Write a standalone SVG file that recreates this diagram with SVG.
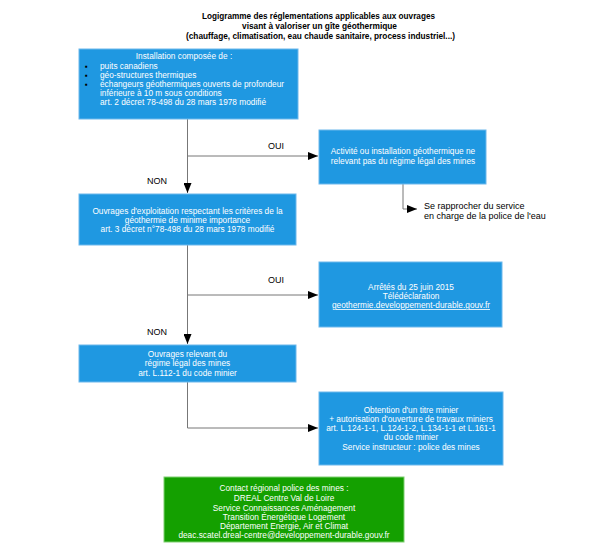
<svg xmlns="http://www.w3.org/2000/svg" width="609" height="545" viewBox="0 0 609 545">
<defs>
<marker id="ah" viewBox="0 0 10 8" refX="10" refY="4" markerWidth="10" markerHeight="8" markerUnits="userSpaceOnUse" orient="auto">
<path d="M0,0 L10,4 L0,8 z" fill="#000"/>
</marker>
</defs>
<style>
.box{fill:#1f98e1;stroke:#6cb8ec;stroke-width:1}
.gbox{fill:#14a000;stroke:#7fcf70;stroke-width:1}
.t{font-family:"Liberation Sans",Arial,sans-serif;font-size:8.3px;fill:#fff}
.c{text-anchor:middle}
.lbl{font-family:"Liberation Sans",Arial,sans-serif;font-size:9px;fill:#000}
.title{font-family:"Liberation Sans Narrow","Liberation Sans",Arial,sans-serif;font-size:9.6px;font-weight:bold;fill:#000;text-anchor:middle}
.con{fill:none;stroke:#777;stroke-width:1}
.bul{font-family:"Liberation Sans",Arial,sans-serif;font-size:8px;fill:#000}
</style>
<rect width="609" height="545" fill="#fff"/>
<g id="title">
<text class="title" x="318.5" y="18.5" textLength="233" lengthAdjust="spacingAndGlyphs">Logigramme des réglementations applicables aux ouvrages</text>
<text class="title" x="319.5" y="28.5" textLength="155" lengthAdjust="spacingAndGlyphs">visant à valoriser un gîte géothermique</text>
<text class="title" x="320.5" y="38.5" textLength="269" lengthAdjust="spacingAndGlyphs">(chauffage, climatisation, eau chaude sanitaire, process industriel...)</text>
</g>
<g id="connectors">
<path class="con" d="M187.5,119 V193" marker-end="url(#ah)"/>
<path class="con" d="M187.5,156 H318" marker-end="url(#ah)"/>
<path class="con" d="M403,184 V209 H417" marker-end="url(#ah)"/>
<path class="con" d="M187.5,245 V344" marker-end="url(#ah)"/>
<path class="con" d="M187.5,295 H318" marker-end="url(#ah)"/>
<path class="con" d="M187.5,382 V428 H318" marker-end="url(#ah)"/>
<text class="lbl" x="268" y="149">OUI</text>
<text class="lbl" x="268" y="283">OUI</text>
<text class="lbl" x="147" y="184">NON</text>
<text class="lbl" x="147" y="335">NON</text>
<text class="lbl" x="424" y="209" font-size="8">Se rapprocher du service</text>
<text class="lbl" x="424" y="219" font-size="8">en charge de la police de l'eau</text>
</g>
<g id="n1">
<rect class="box" x="79" y="49" width="219" height="70"/>
<text class="t c" x="184" y="59">Installation composée de :</text>
<text class="bul" x="85" y="68.5">▪</text>
<text class="bul" x="85" y="77.5">▪</text>
<text class="bul" x="85" y="86.5">▪</text>
<text class="t" x="100" y="68.5">puits canadiens</text>
<text class="t" x="100" y="77.5">géo-structures thermiques</text>
<text class="t" x="100" y="86.5">échangeurs géothermiques ouverts de profondeur</text>
<text class="t" x="100" y="95.5">inférieure à 10 m sous conditions</text>
<text class="t" x="100" y="104.5">art. 2 décret 78-498 du 28 mars 1978 modifié</text>
</g>
<g id="n2">
<rect class="box" x="319" y="130" width="167" height="54"/>
<text class="t c" x="403" y="154">Activité ou installation géothermique ne</text>
<text class="t c" x="403" y="164">relevant pas du régime légal des mines</text>
</g>
<g id="n3">
<rect class="box" x="79" y="194" width="217" height="51"/>
<text class="t c" x="187.5" y="213.5">Ouvrages d'exploitation respectant les critères de la</text>
<text class="t c" x="187.5" y="222.5">géothermie de minime importance</text>
<text class="t c" x="187.5" y="231.5">art. 3 décret n°78-498 du 28 mars 1978 modifié</text>
</g>
<g id="n4">
<rect class="box" x="319" y="262" width="183" height="65"/>
<text class="t c" x="411" y="290">Arrêtés du 25 juin 2015</text>
<text class="t c" x="411" y="299">Télédéclaration</text>
<text class="t c" x="411" y="308" text-decoration="underline">geothermie.developpement-durable.gouv.fr</text>
</g>
<g id="n5">
<rect class="box" x="79" y="345" width="217" height="37"/>
<text class="t c" x="187.5" y="357">Ouvrages relevant du</text>
<text class="t c" x="187.5" y="366">régime légal des mines</text>
<text class="t c" x="187.5" y="375.5">art. L.112-1 du code minier</text>
</g>
<g id="n6">
<rect class="box" x="319" y="392" width="184" height="73"/>
<text class="t c" x="411" y="413">Obtention d'un titre minier</text>
<text class="t c" x="411" y="422">+ autorisation d'ouverture de travaux miniers</text>
<text class="t c" x="411" y="431">art. L.124-1-1, L.124-1-2, L.134-1-1 et L.161-1</text>
<text class="t c" x="411" y="440">du code minier</text>
<text class="t c" x="411" y="449.5">Service instructeur : police des mines</text>
</g>
<g id="n7">
<rect class="gbox" x="164" y="477" width="240" height="65"/>
<text class="t c" x="284" y="491">Contact régional police des mines :</text>
<text class="t c" x="284" y="501">DREAL Centre Val de Loire</text>
<text class="t c" x="284" y="510.5">Service Connaissances Aménagement</text>
<text class="t c" x="284" y="520">Transition Énergétique Logement</text>
<text class="t c" x="284" y="529">Département Energie, Air et Climat</text>
<text class="t c" x="284" y="538">deac.scatel.dreal-centre@developpement-durable.gouv.fr</text>
</g>
</svg>
